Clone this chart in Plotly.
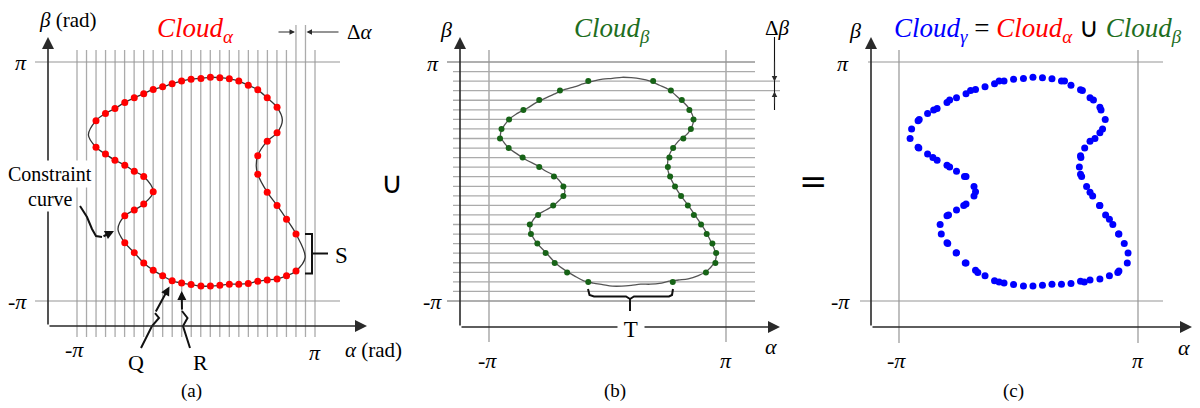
import numpy as np
import plotly.graph_objects as go

PI = np.pi

# ---------------------------------------------------------------------------
# Constraint curve in the (alpha, beta) plane, rad. Closed loop, clockwise,
# starting at the top of the upper lobe.
curve_alpha = [0.13, 0.38, 0.63, 0.88, 1.13, 1.38, 1.63, 1.88, 2.14, 2.28,
               2.14, 1.88, 1.63, 1.59, 1.63, 1.88, 2.14, 2.39, 2.64, 2.88,
               2.64, 2.39, 2.14, 1.88, 1.63, 1.38, 1.13, 0.88, 0.63, 0.38,
               0.13, -0.13, -0.38, -0.63, -0.88, -1.13, -1.38, -1.63, -1.88, -2.06,
               -1.88, -1.63, -1.38, -1.13, -1.38, -1.63, -1.88, -2.14, -2.39, -2.64,
               -2.84, -2.64, -2.39, -2.14, -1.88, -1.63, -1.38, -1.13, -0.88, -0.63,
               -0.38, -0.13]
curve_beta = [2.71, 2.74, 2.73, 2.70, 2.64, 2.53, 2.41, 2.20, 1.95, 1.62,
              1.28, 1.06, 0.68, 0.41, 0.19, -0.28, -0.63, -0.99, -1.38, -2.00,
              -2.35, -2.48, -2.56, -2.59, -2.62, -2.68, -2.70, -2.70, -2.73, -2.75,
              -2.75, -2.71, -2.67, -2.61, -2.48, -2.33, -2.14, -1.87, -1.61, -1.25,
              -0.90, -0.75, -0.59, -0.27, 0.13, 0.27, 0.43, 0.56, 0.72, 0.90,
              1.22, 1.60, 1.79, 1.92, 2.08, 2.20, 2.31, 2.42, 2.49, 2.57,
              2.64, 2.69]

# Cloud_alpha: crossings of the curve with the alpha = const lines
cloud_a_alpha = [-2.64, -2.39, -2.14, -1.88, -1.63, -1.38, -1.13, -0.88, -0.63, -0.38,
                 -0.13, 0.13, 0.38, 0.63, 0.88, 1.13, 1.38, 1.63, 1.88, 2.14,
                 2.14, 1.88, 1.63, 1.63, 1.88, 2.14, 2.39, 2.64,
                 2.64, 2.39, 2.14, 1.88, 1.63, 1.38, 1.13, 0.88, 0.63, 0.38,
                 0.13, -0.13, -0.38, -0.63, -0.88, -1.13, -1.38, -1.63, -1.88,
                 -1.88, -1.63, -1.38, -1.13, -1.38, -1.63, -1.88, -2.14, -2.39, -2.64]
cloud_a_beta = [1.60, 1.79, 1.92, 2.08, 2.20, 2.31, 2.42, 2.49, 2.57, 2.64,
                2.69, 2.71, 2.74, 2.73, 2.70, 2.64, 2.53, 2.41, 2.20, 1.95,
                1.28, 1.06, 0.68, 0.19, -0.28, -0.63, -0.99, -1.38,
                -2.35, -2.48, -2.56, -2.59, -2.62, -2.68, -2.70, -2.70, -2.73, -2.75,
                -2.75, -2.71, -2.67, -2.61, -2.48, -2.33, -2.14, -1.87, -1.61,
                -0.90, -0.75, -0.59, -0.27, 0.13, 0.27, 0.43, 0.56, 0.72, 0.90]

# Cloud_beta: crossings of the curve with the beta = const lines
cloud_b_alpha = [-0.51, -1.26, -1.81, -2.23, -2.61, -2.81, -2.85, -2.62, -2.25, -1.81,
                 -1.42, -1.17, -1.17, -1.44, -1.84, -2.06, -2.03, -1.86, -1.64, -1.40,
                 -1.07, -0.51,
                 1.21, 1.68, 1.97, 2.17, 2.28, 2.21, 2.01, 1.74, 1.64, 1.60,
                 1.66, 1.79, 1.95, 2.13, 2.29, 2.48, 2.63, 2.78, 2.88, 2.86,
                 2.61, 1.73]
cloud_b_beta = [2.64, 2.39, 2.14, 1.88, 1.63, 1.38, 1.13, 0.88, 0.63, 0.38,
                0.13, -0.13, -0.38, -0.63, -0.88, -1.13, -1.38, -1.63, -1.88, -2.14,
                -2.39, -2.64,
                2.64, 2.39, 2.14, 1.88, 1.63, 1.38, 1.13, 0.88, 0.63, 0.38,
                0.13, -0.13, -0.38, -0.63, -0.88, -1.13, -1.38, -1.63, -1.88, -2.14,
                -2.39, -2.64]

# Cloud_gamma = Cloud_alpha U Cloud_beta
cloud_g_alpha = cloud_a_alpha + cloud_b_alpha
cloud_g_beta = cloud_a_beta + cloud_b_beta

N_DIV = 25  # sampling intervals over [-pi, pi]

# ---------------------------------------------------------------------------
W, H = 1200, 408
Y_PI, Y_MPI = 62, 301          # rows of beta = +pi / -pi
PANELS = {
    "a": dict(ax="x", dom=(0, 400), left=77, right=315),
    "b": dict(ax="x2", dom=(400, 800), left=489, right=726),
    "c": dict(ax="x3", dom=(800, 1200), left=899, right=1138),
}


def a_of(p, px):
    s = (p["right"] - p["left"]) / (2 * PI)
    return (px - (p["left"] + p["right"]) / 2) / s


def b_of(py):
    s = (Y_MPI - Y_PI) / (2 * PI)
    return ((Y_PI + Y_MPI) / 2 - py) / s


def fx(px):
    return px / W


def fy(py):
    return 1 - py / H


GRID = "#ababab"
PILINE = "#959595"
AXC = "#2a2a2a"
SERIF = "Times New Roman, Liberation Serif, serif"

fig = go.Figure()
shapes = []
annotations = []


def dline(p, x0, y0, x1, y1, color=GRID, width=1.3):
    shapes.append(dict(type="line", xref=p["ax"], yref="y", x0=x0, y0=y0, x1=x1, y1=y1,
                       line=dict(color=color, width=width), layer="below"))


def ppath(points, width=2, color="#111"):
    d = "M" + " L".join(f"{fx(x):.5f},{fy(y):.5f}" for x, y in points)
    shapes.append(dict(type="path", xref="paper", yref="paper", path=d,
                       line=dict(color=color, width=width)))


def arrow(tip, tail, width=1.5, size=1.5, head=2, color=AXC):
    annotations.append(dict(xref="paper", yref="paper", x=fx(tip[0]), y=fy(tip[1]),
                            ax=tail[0] - tip[0], ay=tail[1] - tip[1],
                            axref="pixel", ayref="pixel", text="", showarrow=True,
                            arrowhead=head, arrowsize=size, arrowwidth=width,
                            arrowcolor=color, standoff=0, startstandoff=0))


def txt(px, py, text, size=20, color="black", family=SERIF, **kw):
    annotations.append(dict(xref="paper", yref="paper", x=fx(px), y=fy(py), text=text,
                            showarrow=False, xanchor="center", yanchor="middle",
                            font=dict(family=family, size=size, color=color), **kw))


steps = [-PI + k * 2 * PI / N_DIV for k in range(N_DIV + 1)]

# ---------------- panel (a) -------------------------------------------------
pa = PANELS["a"]
for k, a in enumerate(steps):
    top = 25 if k in (23, 24) else 50
    dline(pa, a, b_of(337), a, b_of(top))
for b in (PI, -PI):
    dline(pa, a_of(pa, 35), b, a_of(pa, 340), b, color=PILINE, width=1.2)

fig.add_trace(go.Scatter(x=curve_alpha + curve_alpha[:1], y=curve_beta + curve_beta[:1],
                         mode="lines", line=dict(color="#333333", width=1.3, shape="spline"),
                         xaxis="x", yaxis="y", hoverinfo="skip"))
fig.add_trace(go.Scatter(x=cloud_a_alpha, y=cloud_a_beta, mode="markers",
                         marker=dict(color="#ff0000", size=7), xaxis="x", yaxis="y"))

# ---------------- panel (b) -------------------------------------------------
pb = PANELS["b"]
for a in (-PI, PI):
    dline(pb, a, b_of(342), a, b_of(50), color=PILINE, width=1.2)
for j, b in enumerate(steps):
    x0 = 447 if j in (0, N_DIV) else 453
    x1 = 780 if j in (22, 23) else 755
    dline(pb, a_of(pb, x0), b, a_of(pb, x1), b,
          color=PILINE if j in (0, N_DIV) else GRID, width=1.3)

fig.add_trace(go.Scatter(x=curve_alpha + curve_alpha[:1], y=curve_beta + curve_beta[:1],
                         mode="lines", line=dict(color="#555555", width=1.3, shape="spline"),
                         xaxis="x2", yaxis="y", hoverinfo="skip"))
fig.add_trace(go.Scatter(x=cloud_b_alpha, y=cloud_b_beta, mode="markers",
                         marker=dict(color="#176317", size=6), xaxis="x2", yaxis="y"))

# ---------------- panel (c) -------------------------------------------------
pc = PANELS["c"]
for a in (-PI, PI):
    dline(pc, a, b_of(343), a, b_of(50), color=PILINE, width=1.2)
dline(pc, a_of(pc, 868), PI, a_of(pc, 1163), PI, color=PILINE, width=1.2)
dline(pc, a_of(pc, 860), -PI, a_of(pc, 1163), -PI, color=PILINE, width=1.2)

fig.add_trace(go.Scatter(x=cloud_g_alpha, y=cloud_g_beta, mode="markers",
                         marker=dict(color="#0000ff", size=7), xaxis="x3", yaxis="y"))

# ---------------- axes with arrowheads --------------------------------------
for x_ax, x_end, y_ax in ((48, 367, 326), (460, 780, 327), (871, 1192, 327)):
    arrow((x_ax, 37), (x_ax, y_ax), width=1.6, size=1.5)
    arrow((x_end, y_ax), (x_ax, y_ax), width=1.6, size=1.5)

# delta markers
arrow((295, 32), (277, 32), width=1.1, size=1.0)
arrow((306.5, 32), (340, 32), width=1.1, size=1.0)
shapes.append(dict(type="line", xref="paper", yref="paper", x0=fx(774.5), x1=fx(774.5),
                   y0=fy(37), y1=fy(110), line=dict(color="#111", width=1.1)))
arrow((774.5, 81.5), (774.5, 60), width=1.1, size=1.0)
arrow((774.5, 91.5), (774.5, 105), width=1.1, size=1.0)

# pointers Q, R and "Constraint curve"
ppath([(141, 348), (152, 326), (159, 318), (155, 313)])
arrow((169.5, 286.5), (155, 313), width=2, size=0.9, color="#111")
ppath([(190, 348), (183, 326), (187.5, 318), (182, 311)])
arrow((181.7, 291), (182, 311), width=2, size=0.9, color="#111")
ppath([(80, 206), (87, 217), (92, 229), (96, 236), (102, 237)])
arrow((114, 231), (102, 237), width=2, size=0.9, color="#111")

# brace S
ppath([(305, 234), (312, 234), (312, 273.5), (305, 273.5)], width=2)
ppath([(312, 253.5), (328, 253.5)], width=2)
# brace T
ppath([(588, 289), (589.5, 295), (594, 296.5), (626, 296.5), (630, 299), (630, 311)], width=2)
ppath([(630, 299), (634, 296.5), (669, 296.5), (672, 295), (673, 289)], width=2)

# ---------------- text -------------------------------------------------------
txt(68, 20, "<i>β</i> (rad)", 21)
txt(195, 30, "<i>Cloud</i><sub><i>α</i></sub>", 27, color="#ff0000")
txt(360, 32, "Δ<i>α</i>", 21)
txt(21, 62, "<i>π</i>", 22)
txt(17, 301, "-<i>π</i>", 22)
txt(74, 349, "-<i>π</i>", 22)
txt(315, 352, "<i>π</i>", 22)
txt(373, 350, "<i>α</i> (rad)", 21)
txt(191, 391, "(a)", 19)
txt(136, 362, "Q", 22)
txt(200, 362, "R", 22)
txt(50, 174, "Constraint", 20, bgcolor="white", borderpad=2)
txt(50, 199, "curve", 20, bgcolor="white", borderpad=1)
txt(342, 255, "S", 23)
txt(392, 182, "∪", 30, family="DejaVu Sans")

txt(446, 30, "<i>β</i>", 22)
txt(612, 30, "<i>Cloud</i><sub><i>β</i></sub>", 27, color="#1e6e1e")
txt(777, 28, "Δ<i>β</i>", 21)
txt(433, 63, "<i>π</i>", 22)
txt(432, 301, "-<i>π</i>", 22)
txt(487, 360, "-<i>π</i>", 22)
txt(726, 360, "<i>π</i>", 22)
txt(771, 346, "<i>α</i>", 22)
txt(615, 391, "(b)", 19)
txt(631, 329, "&nbsp;T&nbsp;", 23, bgcolor="white", borderpad=0)

txt(813, 181, "=", 34, family="DejaVu Sans")

txt(855, 31, "<i>β</i>", 22)
txt(1038, 30,
    '<span style="color:#0000ff"><i>Cloud</i><sub><i>γ</i></sub></span> = '
    '<span style="color:#ff0000"><i>Cloud</i><sub><i>α</i></sub></span> ∪ '
    '<span style="color:#1e6e1e"><i>Cloud</i><sub><i>β</i></sub></span>', 27)
txt(843, 63, "<i>π</i>", 22)
txt(840, 301, "-<i>π</i>", 22)
txt(896, 360, "-<i>π</i>", 22)
txt(1138, 360, "<i>π</i>", 22)
txt(1184, 347, "<i>α</i>", 22)
txt(1013, 391, "(c)", 19)

# ---------------- layout -----------------------------------------------------
axis_common = dict(visible=False, fixedrange=True, showgrid=False, zeroline=False)
fig.update_layout(
    width=W, height=H, margin=dict(l=0, r=0, t=0, b=0),
    paper_bgcolor="white", plot_bgcolor="white", showlegend=False,
    xaxis=dict(domain=[0, 1 / 3], range=[a_of(pa, 0), a_of(pa, 400)], **axis_common),
    xaxis2=dict(domain=[1 / 3, 2 / 3], range=[a_of(pb, 400), a_of(pb, 800)],
                anchor="y", **axis_common),
    xaxis3=dict(domain=[2 / 3, 1], range=[a_of(pc, 800), a_of(pc, 1200)],
                anchor="y", **axis_common),
    yaxis=dict(domain=[0, 1], range=[b_of(H), b_of(0)], **axis_common),
    shapes=shapes, annotations=annotations,
)

fig.write_html("out.html")
